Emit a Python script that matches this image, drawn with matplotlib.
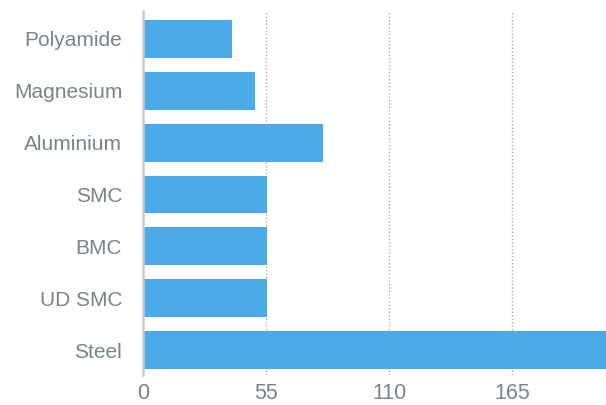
import matplotlib
matplotlib.use("Agg")
import matplotlib.pyplot as plt

categories = ["Steel", "UD SMC", "BMC", "SMC", "Aluminium", "Magnesium", "Polyamide"]
values = [210, 55.5, 55.5, 55.5, 80.5, 50, 40]
xticks = [0, 55, 110, 165]

plt.rcParams['font.family'] = ['Liberation Sans', 'DejaVu Sans']

fig = plt.figure(figsize=(6.06, 4.05), dpi=100)
ax = fig.add_axes([143/606, 1 - 375/405, 1 - 143/606, (375 - 11)/405])

ypos = list(range(len(categories)))
ax.barh(ypos, values, height=0.73, color="#4DAAE8", zorder=3)
ax.set_xlim(0, 207)
ax.set_ylim(-0.48, 6.54)
ax.set_yticks(ypos)
ax.set_yticklabels(categories)
ax.set_xticks(xticks)
ax.set_xticklabels([str(t) for t in xticks])

for t in xticks[1:]:
    ax.axvline(t, color="#aaaaaa", linestyle=(0, (1, 1.5)), linewidth=1, zorder=1)

for s in ["top", "right", "bottom"]:
    ax.spines[s].set_visible(False)
ax.spines["left"].set_color("#cccccc")
ax.spines["left"].set_linewidth(1.8)
ax.spines["left"].set_zorder(4)

ax.tick_params(axis="both", length=0, colors="#7a838c")
ax.tick_params(axis="y", pad=15, labelsize=15)
ax.tick_params(axis="x", pad=6, labelsize=15.5)

fig.savefig("out.png", dpi=100)
